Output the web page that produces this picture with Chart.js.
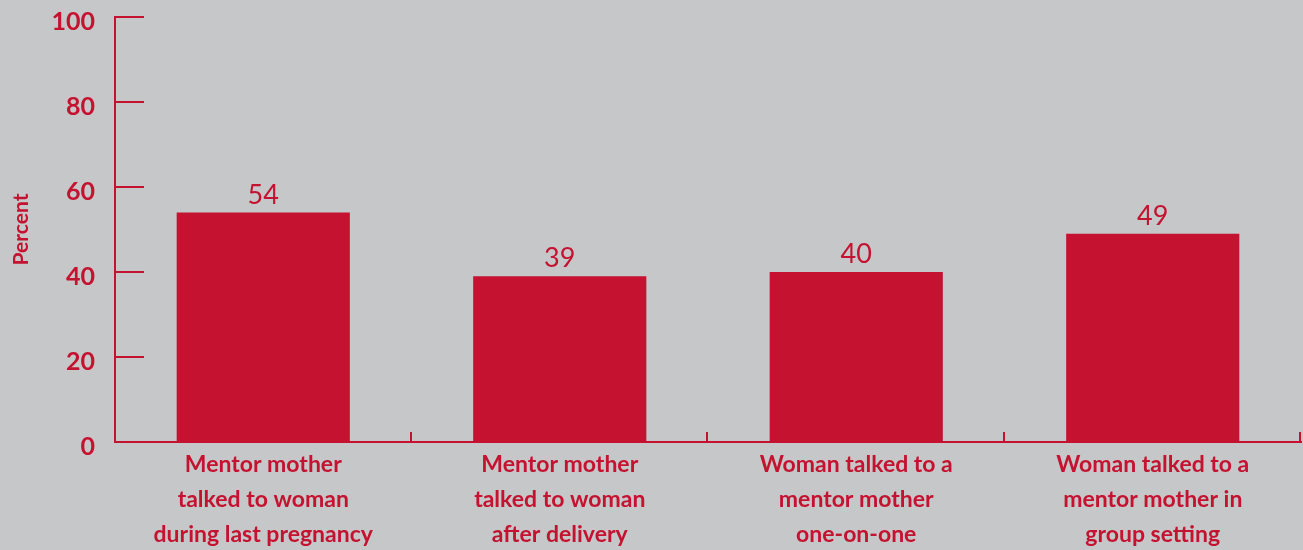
<!DOCTYPE html>
<html>
<head>
<meta charset="utf-8">
<script src="https://cdn.jsdelivr.net/npm/chart.js@4/dist/chart.umd.min.js"></script>
<style>
  html, body { margin: 0; padding: 0; background: #c6c7c8; }
  canvas { display: block; }
</style>
</head>
<body>
<canvas id="c" width="1303" height="550"></canvas>
<script>
const categories = [
  ["Mentor mother", "talked to woman", "during last pregnancy"],
  ["Mentor mother", "talked to woman", "after delivery"],
  ["Woman talked to a", "mentor mother", "one-on-one"],
  ["Woman talked to a", "mentor mother in", "group setting"]
];
const percentValues = [54, 39, 40, 49];
const yTickValues = [0, 20, 40, 60, 80, 100];
const axisTitle = "Percent";

const RED = "#c41230";
const FONT = "Lato, 'DejaVu Sans', sans-serif";

const extras = {
  id: "extras",
  beforeDraw(chart) {
    const ctx = chart.ctx;
    ctx.save();
    ctx.fillStyle = "#c6c7c8";
    ctx.fillRect(0, 0, chart.width, chart.height);
    ctx.restore();
  },
  afterDraw(chart) {
    const ctx = chart.ctx;
    const ys = chart.scales.y, xs = chart.scales.x;
    const area = chart.chartArea;
    ctx.save();
    ctx.strokeStyle = RED;
    ctx.lineWidth = 2;
    ys.ticks.forEach(t => {
      if (t.value === 0) return;
      const y = Math.round(ys.getPixelForValue(t.value));
      ctx.beginPath();
      ctx.moveTo(area.left, y);
      ctx.lineTo(area.left + 29, y);
      ctx.stroke();
    });
    for (let i = 1; i <= categories.length; i++) {
      const x = Math.round(xs.getPixelForValue(i - 0.5)) - 1;
      ctx.beginPath();
      ctx.moveTo(x, area.bottom);
      ctx.lineTo(x, area.bottom - 10);
      ctx.stroke();
    }
    ctx.fillStyle = RED;
    ctx.font = "27px " + FONT;
    ctx.textAlign = "center";
    ctx.textBaseline = "alphabetic";
    chart.getDatasetMeta(0).data.forEach((bar, i) => {
      ctx.fillText(String(percentValues[i]), bar.x, bar.y - 9);
    });
    ctx.restore();
  }
};

new Chart(document.getElementById("c"), {
  type: "bar",
  data: {
    labels: categories,
    datasets: [{
      data: percentValues,
      backgroundColor: RED,
      borderWidth: 0,
      barPercentage: 0.584,
      categoryPercentage: 1
    }]
  },
  options: {
    responsive: false,
    animation: false,
    devicePixelRatio: 1,
    layout: { padding: { top: 17, right: 2, bottom: 0, left: 0 } },
    plugins: { legend: { display: false }, tooltip: { enabled: false } },
    scales: {
      x: {
        offset: true,
        grid: { display: false, drawTicks: false },
        border: { display: true, color: RED, width: 2 },
        ticks: {
          color: RED,
          font: { family: FONT, size: 23, weight: "bold", lineHeight: "35px" },
          padding: 5,
          maxRotation: 0,
          autoSkip: false
        },
        afterFit(s) { s.height = 108; s.paddingLeft = 0; s.paddingRight = 0; }
      },
      y: {
        min: 0,
        max: 100,
        afterBuildTicks(s) { s.ticks = yTickValues.map(v => ({ value: v })); },
        grid: { display: false, drawTicks: false },
        border: { display: true, color: RED, width: 2 },
        ticks: {
          color: RED,
          font: { family: FONT, size: 25, weight: "bold" },
          padding: 20,
          labelOffset: 5
        },
        title: {
          display: true,
          text: axisTitle,
          color: RED,
          font: { family: FONT, size: 21, weight: "bold" },
          padding: { top: 9, bottom: 0 }
        },
        afterFit(s) { s.width = 115; s.paddingTop = 0; s.paddingBottom = 0; }
      }
    }
  },
  plugins: [extras]
});
</script>
</body>
</html>
